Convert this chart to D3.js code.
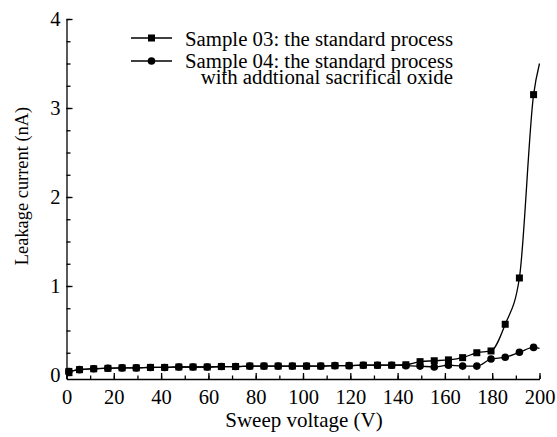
<!DOCTYPE html>
<html>
<head>
<meta charset="utf-8">
<script src="https://cdn.jsdelivr.net/npm/d3@7"></script>
<style>
  body { margin: 0; background: #fff; }
  svg text { font-family: "Liberation Serif", "Times New Roman", serif; fill: #000; }
</style>
</head>
<body>
<div id="chart"></div>
<script>
// sweep voltages (V) where both samples were measured
const voltage = [1, 5.5, 11.5, 17.5, 23.5, 29.5, 35.5, 41.5, 47.5, 53.5, 59.5, 65.5, 71.5, 77.5, 83.5, 89.5, 95.5,
    101.5, 107.5, 113.5, 119.5, 125.5, 131.5, 137.5, 143.5, 149.5, 155.5, 161.5, 167.5, 173.5, 179.5, 185.5, 191.5, 197.5];

// leakage current (nA)
const sample03 = [0.04, 0.06, 0.07, 0.075, 0.08, 0.08, 0.085, 0.085, 0.09, 0.09, 0.09, 0.095, 0.095, 0.1, 0.1, 0.1, 0.1,
    0.1, 0.1, 0.105, 0.105, 0.11, 0.11, 0.11, 0.115, 0.15, 0.16, 0.17, 0.195, 0.25, 0.27, 0.57, 1.09, 3.15];
const sample04 = [0.04, 0.06, 0.07, 0.075, 0.08, 0.08, 0.085, 0.085, 0.09, 0.09, 0.09, 0.095, 0.095, 0.1, 0.1, 0.1, 0.1,
    0.1, 0.1, 0.105, 0.105, 0.11, 0.11, 0.11, 0.105, 0.1, 0.09, 0.11, 0.1, 0.1, 0.18, 0.2, 0.255, 0.31];

// where the drawn curves end (no marker)
const tail03 = [200, 3.5];
const tail04 = [200, 0.3];

const legendLabels = ["Sample 03: the standard process", "Sample 04: the standard process", "with addtional sacrifical oxide"];
const xTicks = [0, 20, 40, 60, 80, 100, 120, 140, 160, 180, 200];
const yTicks = [0, 1, 2, 3, 4];

const W = 557, H = 437;
const margin = ({ top: 19, right: 17.5, bottom: 58, left: 66.5 });
const width = W - margin.left - margin.right,
    height = H - margin.top - margin.bottom;

const svg = d3.select("#chart").append("svg")
    .attr("width", W)
    .attr("height", H)
    .append("g")
    .attr("transform", "translate(" + margin.left + "," + margin.top + ")");

const x = d3.scaleLinear().domain([0, 200]).range([0, width]);
const y = d3.scaleLinear().domain([-0.045, 4]).range([height, 0]);

// x axis, ticks pointing inward
svg.append("g")
    .attr("transform", "translate(0," + height + ")")
    .call(d3.axisBottom(x).tickValues(d3.range(0, 201, 10)).tickSize(-3.5).tickFormat(""))
    .call(g => g.select(".domain").remove());
const xMaj = svg.append("g")
    .attr("transform", "translate(0," + height + ")")
    .call(d3.axisBottom(x).tickValues(xTicks).tickSize(-6).tickSizeOuter(0));
xMaj.selectAll("text").attr("font-size", 20.5).attr("dy", "0.71em").attr("y", 10);

// y axis
svg.append("g")
    .call(d3.axisLeft(y).tickValues(d3.range(0, 4.01, 0.25)).tickSize(-4).tickFormat(""))
    .call(g => g.select(".domain").remove());
const yMaj = svg.append("g")
    .call(d3.axisLeft(y).tickValues(yTicks).tickSize(-6).tickSizeOuter(0).tickFormat(d3.format("d")));
yMaj.selectAll("text").attr("font-size", 20.5).attr("x", -6);

svg.selectAll(".domain, .tick line").attr("stroke", "#000").attr("stroke-width", 1.3);

// axis titles
svg.append("text")
    .attr("x", x(100) + 1)
    .attr("y", height + 48)
    .attr("text-anchor", "middle")
    .attr("font-size", 21)
    .text("Sweep voltage (V)");

svg.append("text")
    .attr("transform", "translate(" + (-38.5) + "," + 167 + ") rotate(-90)")
    .attr("text-anchor", "middle")
    .attr("font-size", 18.4)
    .text("Leakage current (nA)");

const line = d3.line()
    .x(d => x(d[0]))
    .y(d => y(d[1]))
    .curve(d3.curveMonotoneX);

const pts03 = voltage.map((v, i) => [v, sample03[i]]);
const pts04 = voltage.map((v, i) => [v, sample04[i]]);

svg.append("path")
    .datum(pts04.concat([tail04]))
    .attr("fill", "none")
    .attr("stroke", "#000")
    .attr("stroke-width", 1.3)
    .attr("d", line);

svg.append("path")
    .datum(pts03.concat([tail03]))
    .attr("fill", "none")
    .attr("stroke", "#000")
    .attr("stroke-width", 1.3)
    .attr("d", line);

svg.append("g").selectAll("rect")
    .data(pts03)
    .join("rect")
    .attr("x", d => x(d[0]) - 3.5)
    .attr("y", d => y(d[1]) - 3.5)
    .attr("width", 7)
    .attr("height", 7)
    .attr("fill", "#000");

svg.append("g").selectAll("circle")
    .data(pts04)
    .join("circle")
    .attr("cx", d => x(d[0]))
    .attr("cy", d => y(d[1]))
    .attr("r", 3.8)
    .attr("fill", "#000");

// legend
const lg = svg.append("g").attr("transform", "translate(" + (-margin.left) + "," + (-margin.top) + ")");
[38, 61].forEach((ly, i) => {
    lg.append("line")
        .attr("x1", 131).attr("x2", 172)
        .attr("y1", ly).attr("y2", ly)
        .attr("stroke", "#000").attr("stroke-width", 1.3);
    if (i === 0) {
        lg.append("rect").attr("x", 151.5 - 3.5).attr("y", ly - 3.5).attr("width", 7).attr("height", 7);
    } else {
        lg.append("circle").attr("cx", 151.5).attr("cy", ly).attr("r", 3.8);
    }
});
lg.append("text").attr("x", 185).attr("y", 46).attr("font-size", 20.8).text(legendLabels[0]);
// second entry is one label on two lines
const t2 = lg.append("text").attr("font-size", 20.8).attr("text-anchor", "end");
t2.append("tspan").attr("x", 453).attr("y", 68).text(legendLabels[1]);
t2.append("tspan").attr("x", 453).attr("y", 84).text(legendLabels[2]);
</script>
</body>
</html>
